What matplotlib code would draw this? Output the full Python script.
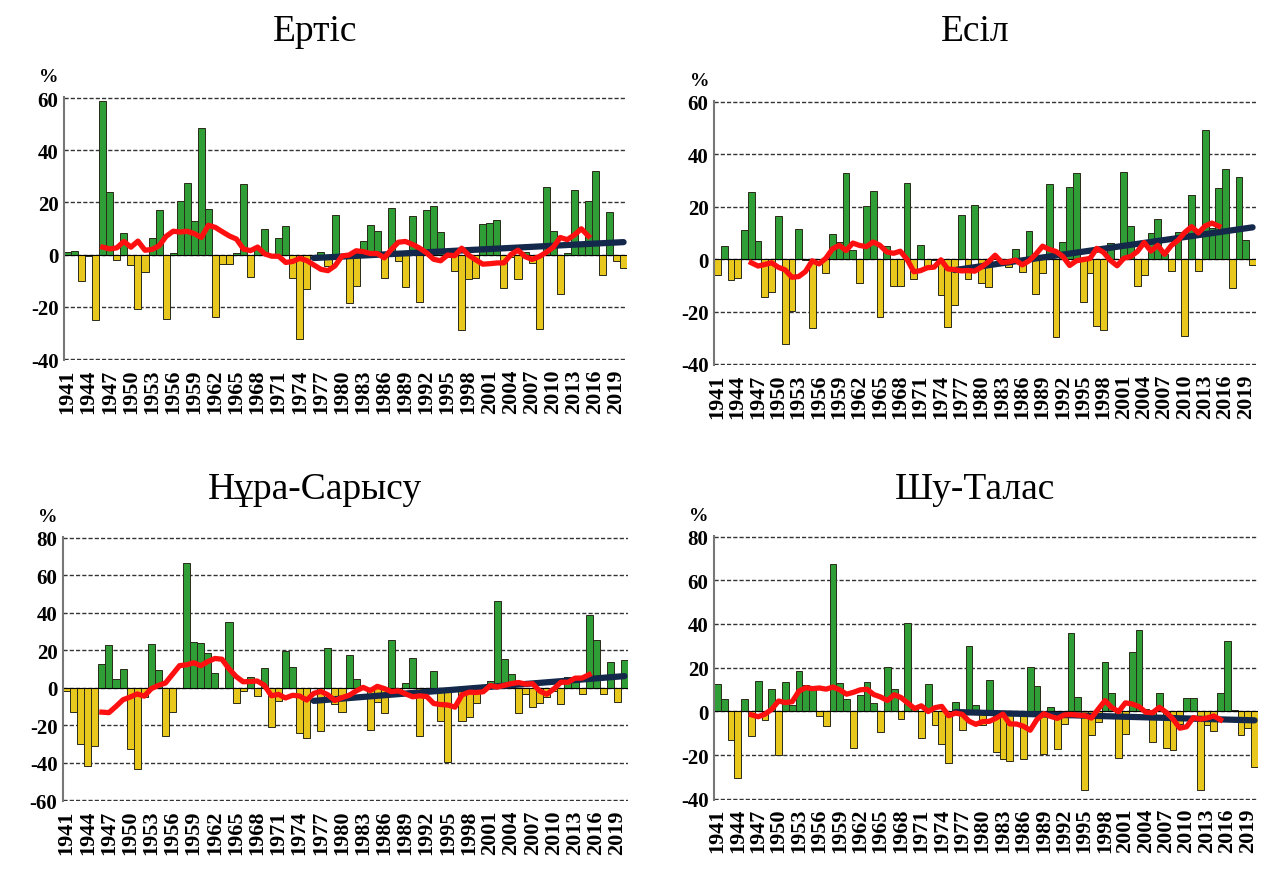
import numpy as np
import pandas as pd
import matplotlib
matplotlib.use('Agg')
import matplotlib.pyplot as plt

plt.rcParams['axes.unicode_minus'] = False

years = list(range(1941, 2021))
tick_years = list(range(1941, 2020, 3))

# deviations from the norm, %
ertis = [1, 1.5, -10, -0.5, -25, 59, 24, -2, 8.4, -4,
         -20.8, -6.6, 6.2, 17, -24.7, 0.5, 20.5, 27.6, 13, 48.5,
         17.4, -24, -3.5, -3.5, 0.5, 26.9, -8.6, 2, 9.8, 0,
         6.3, 11.1, -9.1, -32.4, -13, 0, 1, -4.4, 15.3, 0,
         -18.5, -11.9, 5.4, 11.5, 9.1, -9.1, 17.9, -2.5, -12.3, 15,
         -18.2, 17, 18.6, 8.6, -1, -6.3, -29, -9.3, -9, 11.9,
         12.3, 13.4, -12.7, -1, -9.4, 1, -3.3, -28.6, 26, 9.1,
         -15, 0.5, 24.9, 5, 20.6, 32, -7.9, 16.2, -2.3, -5]
esil = [-5.9, 5, -7.8, -7.4, 11, 25.7, 6.9, -14.5, -12.5, 16.6,
        -32.4, -19.7, 11.3, -0.5, -26.2, 0, -5.2, 9.6, 6.6, 32.8,
        3.5, -9.3, 20.3, 26.1, -22.2, 5, -10.1, -10.1, 29.1, -7.6,
        5.5, -2.5, -0.5, -13.7, -26, -17.4, 17, -7.6, 20.7, -9.1,
        -10.5, 0, -1, -3, 3.9, -4.9, 10.6, -13.4, -5.2, 28.6,
        -29.6, 6.6, 27.6, 32.8, -16.3, -5.2, -25.7, -27.1, 6.3, 0,
        33.3, 12.6, -10.1, -5.9, 10, 15.1, 2, -4.4, 10.3, -29.5,
        24.5, -4.4, 49.2, 12, 27, 34.2, -11.2, 31.4, 7.3, -2.3]
nura = [-2, -13.2, -30, -41.5, -31.2, 12.9, 22.8, 4.8, 10.2, -32.6,
        -43.4, -4.8, 23.3, 9.2, -25.9, -13, 0, 66.7, 24.2, 23.8,
        18.5, 7.6, 0, 35.3, -7.9, -2, 5.5, -4.4, 10.6, -21.2,
        -7, 19.8, 10.8, -24.2, -27, 0, -23, 21.3, -8.8, -12.7,
        17.6, 4.6, 0, -22.6, -7.4, -13.6, 25.6, -2, 2.6, 16,
        -25.8, 0, 8.8, -17.6, -39.7, -2, -17.6, -15.5, -7.9, 0,
        3.5, 46.4, 15.5, 7.2, -13.6, -3.2, -10.4, -7.9, -5, -2,
        -8.8, 5.5, 3.2, -3.4, 38.8, 25.4, -3.4, 13.9, -7.4, 15]
shu = [12.4, 5.5, -12.9, -30.3, 5.5, -11.1, 14.1, -4.1, 10.2, -19.8,
       13.3, 2.7, 18.3, 12.1, 11, -2.3, -6.8, 67.6, 12.9, 5.6,
       -16.7, 7.6, 13.3, 3.9, -9.5, 20.3, 10.2, -3.6, 40.6, 1,
       -12.4, 12.4, -6.4, -14.7, -23.5, 4.2, -8.6, 29.8, 2.7, -6.4,
       14.2, -18.5, -21.8, -22.6, -1, -22, 20.3, 11.5, -19.4, 2,
       -17.4, -5.9, 35.8, 6.8, -35.9, -11, -4.8, 22.6, 8.3, -21.5,
       -10.5, 27.1, 37.3, 1, -13.9, 8.3, -16.7, -17.9, -5.9, 5.9,
       5.9, -35.9, -6.4, -9.1, 8.3, 32.1, 0.5, -10.9, -7.4, -25.6]

# linear trend 1976-2020 (values at both ends)
trend_years = [1976, 2020]
ertis_trend = [-1.3, 4.8]
esil_trend = [-4.2, 12.1]
nura_trend = [-7.0, 6.2]
shu_trend = [-0.3, -4.1]

titles = ['Ертіс', 'Есіл', 'Нұра-Сарысу', 'Шу-Талас']

green = '#2f9e37'
yellow = '#e8c81c'

fig = plt.figure(figsize=(12.61, 8.70), dpi=100)

# axes rectangles in figure fractions
rects = [[0.0508, 0.585, 0.4465, 0.3023],
         [0.5662, 0.5793, 0.4298, 0.3038],
         [0.0500, 0.0782, 0.4480, 0.3034],
         [0.5662, 0.0797, 0.4314, 0.3034]]
ylims = [(-40, 60), (-40, 60), (-60, 80), (-40, 80)]
data = [ertis, esil, nura, shu]
trends = [ertis_trend, esil_trend, nura_trend, shu_trend]
title_pos = [(0.25, 0.963), (0.773, 0.963), (0.25, 0.437), (0.773, 0.437)]

for k in range(4):
    ax = fig.add_axes(rects[k])
    s = pd.Series(data[k], index=years)
    colors = [green if v >= 0 else yellow for v in s.values]
    ax.bar(s.index, s.values, width=1.0, color=colors,
           edgecolor='#2a2a1a', linewidth=0.7, zorder=2)
    ma = s.rolling(11, center=True).mean()
    ax.plot(ma.index, ma.values, color='#ff1010', lw=3.8, zorder=4)
    ax.plot(trend_years, trends[k], color='#13284a', lw=4.5,
            solid_capstyle='round', zorder=3)
    ax.axhline(0, color='black', lw=0.8, zorder=2.5)

    lo, hi = ylims[k]
    ax.set_ylim(lo - 0.4, hi + 0.4)
    ax.set_xlim(1940.5, 2020.5)
    ax.set_yticks(range(lo, hi + 1, 20))
    ax.yaxis.grid(True, linestyle=(0, (3, 1.5)), color='#333333', lw=1.0)
    ax.set_axisbelow(True)
    ax.set_xticks(tick_years)
    ax.set_xticklabels([str(y) for y in tick_years], rotation=90,
                       fontsize=16, fontweight='bold', family='Liberation Serif')
    for lab in ax.get_yticklabels():
        lab.set_fontsize(15)
        lab.set_fontweight('bold')
        lab.set_family('Liberation Serif')
    ax.tick_params(axis='both', length=0, pad=4)
    ax.tick_params(axis='x', pad=6)
    for sp in ['top', 'right', 'bottom']:
        ax.spines[sp].set_visible(False)
    ax.spines['left'].set_color('#777777')
    ax.spines['left'].set_linewidth(1.5)
    ax.text(-0.045, 1.06, '%', transform=ax.transAxes, fontsize=14,
            fontweight='bold', family='Liberation Serif', ha='left')
    fig.text(title_pos[k][0], title_pos[k][1], titles[k], ha='center',
             va='center', fontsize=27, family='Liberation Serif')

fig.savefig('out.png', dpi=100)
